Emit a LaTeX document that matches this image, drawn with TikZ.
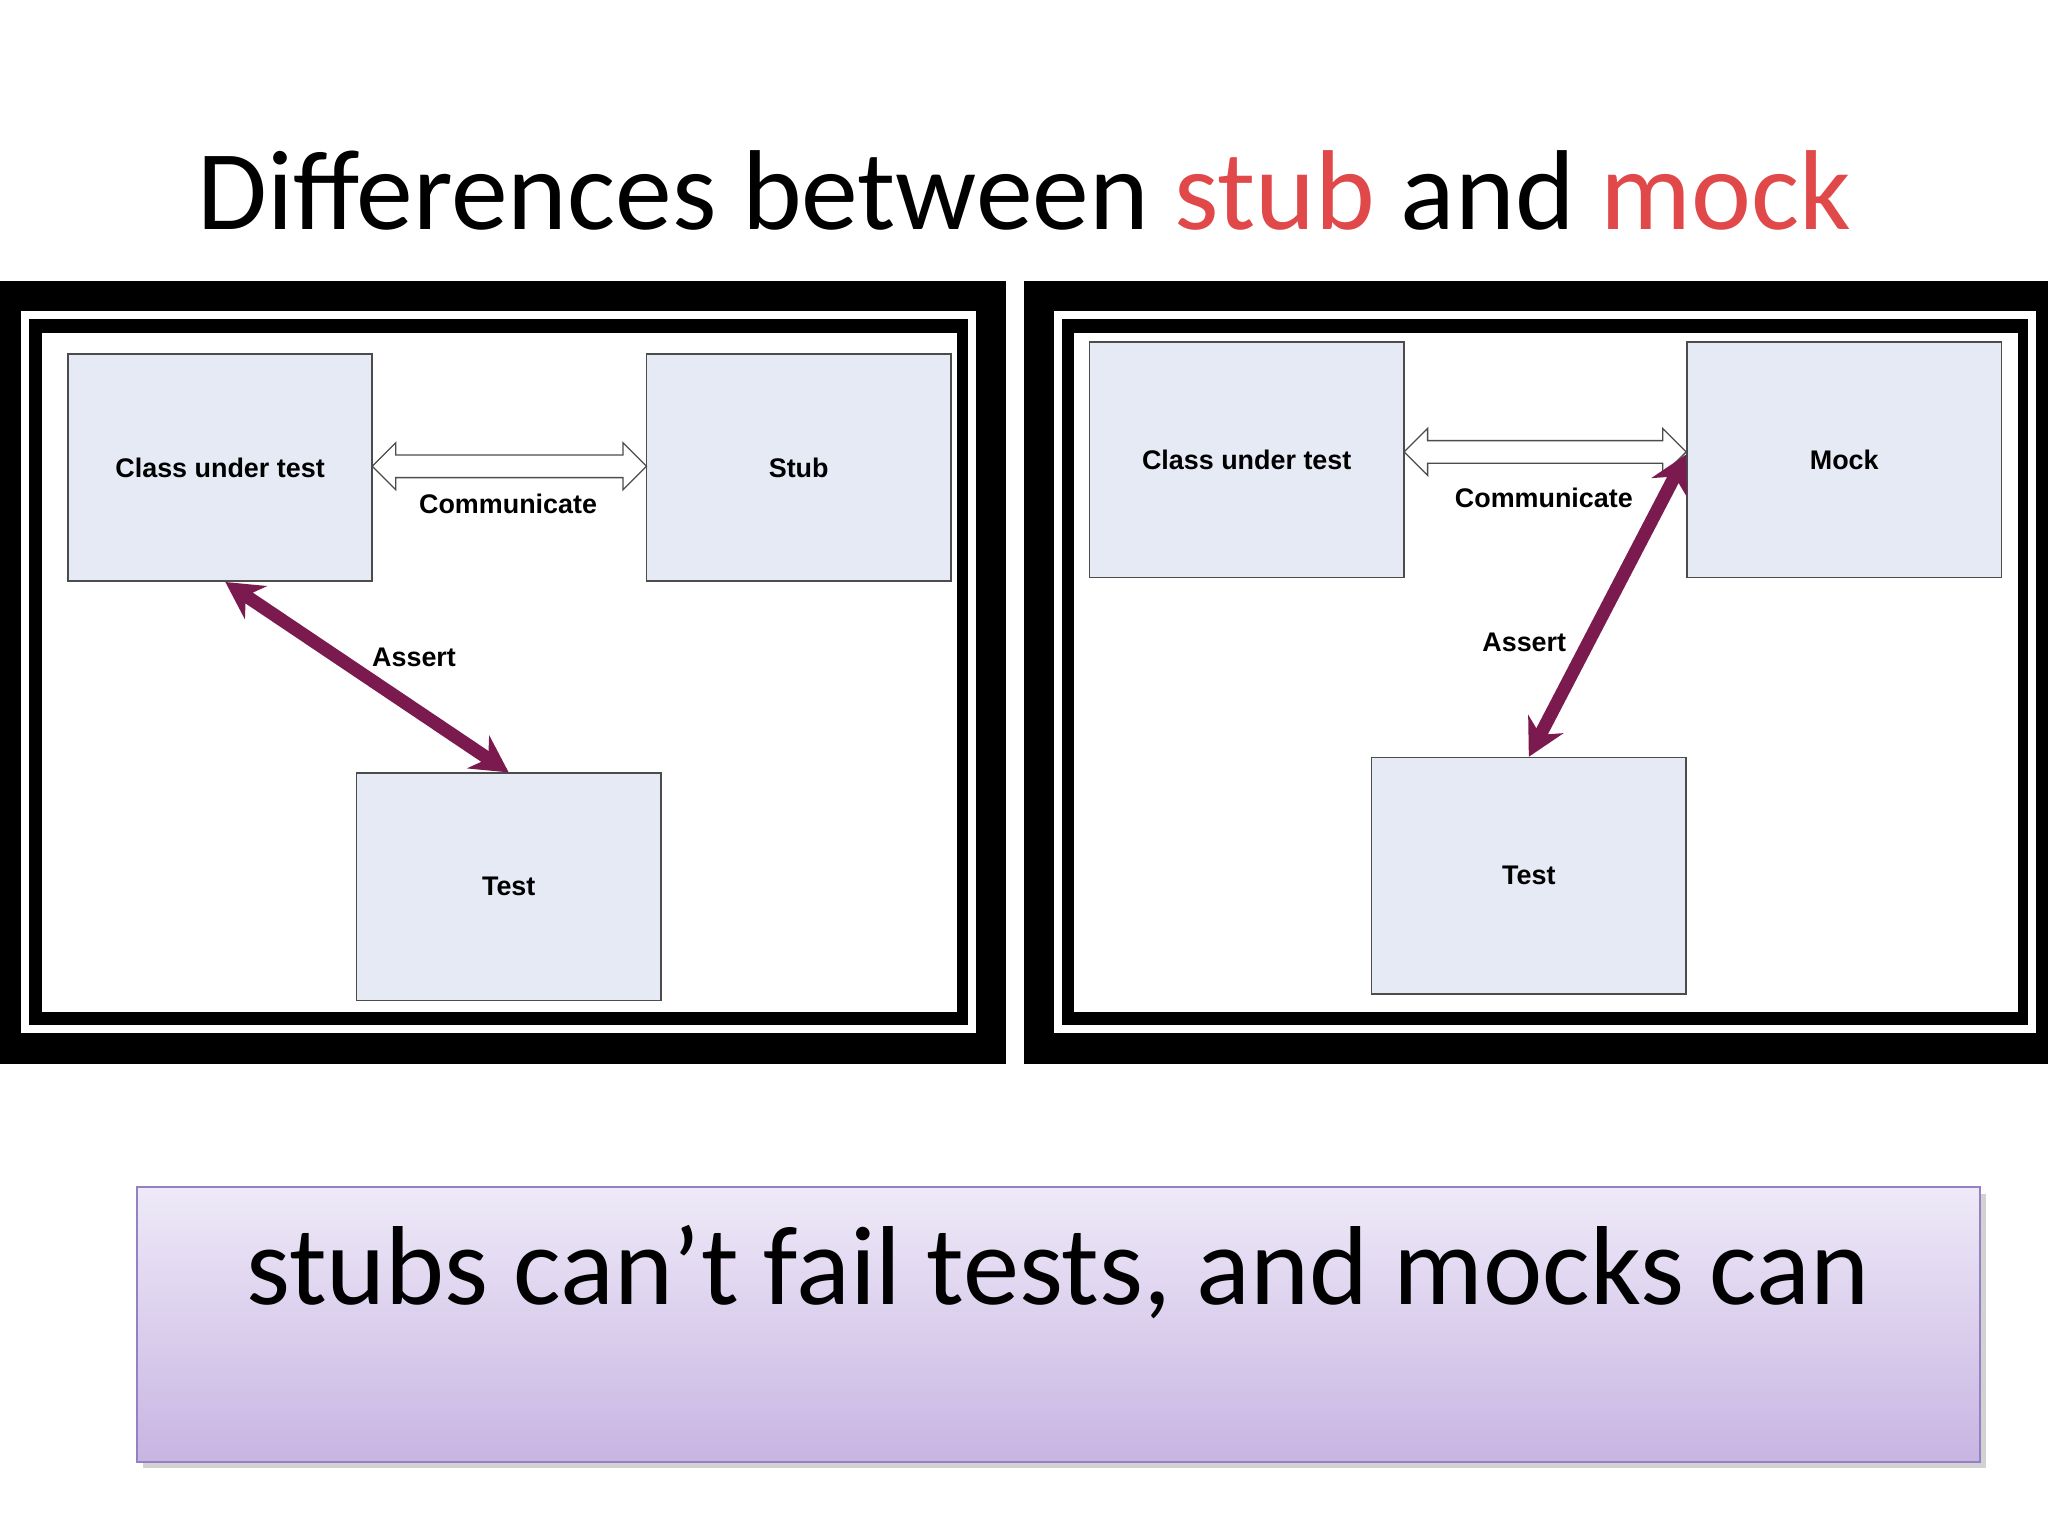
\documentclass[tikz,border=0pt]{standalone}
\usepackage{fontspec}
\setmainfont{Carlito}
\newfontfamily\arialb{Liberation Sans}[BoldFont={* Bold}]
\usetikzlibrary{shapes.arrows,arrows.meta,shadows}
\definecolor{boxfill}{HTML}{E6EAF5}
\definecolor{maroon}{HTML}{7B1A4F}
\definecolor{redt}{HTML}{E0484A}
\definecolor{gtop}{HTML}{EEEAF8}
\definecolor{gbot}{HTML}{C8B4E2}
\definecolor{gbord}{HTML}{9580C4}
\tikzset{
  box/.style={draw=black!70, fill=boxfill, line width=0.6pt, font=\arialb\bfseries\fontsize{10.3}{12}\selectfont},
  comm/.style={double arrow, draw=black!70, fill=white, line width=0.5pt, inner sep=3pt, double arrow head extend=3.5pt, double arrow head indent=0pt},
  lab/.style={font=\arialb\bfseries\fontsize{10.3}{12}\selectfont},
  assert/.style={draw=maroon, line width=5pt, {Stealth[length=14pt,width=15pt]}-{Stealth[length=14pt,width=15pt]}},
}
\begin{document}
\begin{tikzpicture}[x=0.5pt,y=-0.5pt]
\useasboundingbox (0,0) rectangle (1568,1176);
\fill[white] (0,0) rectangle (1568,1176);
% title
\node[font=\fontsize{43.5}{50}\selectfont, anchor=base] (title) at (784,176) {Differences between \textcolor{redt}{stub} and \textcolor{redt}{mock}};
% frames
\fill[black] (0,215) rectangle (770,815);
\draw[white, line width=3pt] (19,241) rectangle (744,788);
\fill[white] (32,255) rectangle (733,775);
\fill[black] (784,215) rectangle (1568,815);
\draw[white, line width=3pt] (810,241) rectangle (1556,788);
\fill[white] (822,255) rectangle (1545,775);
% left diagram
\node[box, minimum width=116.5pt, minimum height=87pt] (cl) at (168.5,358) {Class under test};
\node[box, minimum width=116.5pt, minimum height=87pt] (st) at (611.5,358) {Stub};
\node[box, minimum width=116.5pt, minimum height=87pt] (tl) at (389.5,679) {Test};
\node[comm, minimum height=105pt, minimum width=18pt] (cal) at (390,357) {};
\node[lab] (cml) at (389,386) {Communicate};
\draw[assert] ([xshift=2pt]cl.south) -- (tl.north);
\node[lab] (asl) at (317,503) {Assert};
% right diagram
\node[box, minimum width=120.5pt, minimum height=90pt] (cr) at (954.5,352) {Class under test};
\node[box, minimum width=120.5pt, minimum height=90pt] (mk) at (1412,352) {Mock};
\node[box, minimum width=120.5pt, minimum height=90.5pt] (tr) at (1170.5,670.5) {Test};
\node[comm, minimum height=108pt, minimum width=18pt] (car) at (1183,346) {};
\node[lab] (cmr) at (1182,381) {Communicate};
\draw[assert] ([yshift=2pt]mk.west) -- (tr.north);
\node[lab] (asr) at (1167,492) {Assert};
% bottom box
\shade[top color=gtop, bottom color=gbot, drop shadow={opacity=0.35}] (105,909) rectangle (1516,1119);
\draw[draw=gbord, line width=0.8pt] (105,909) rectangle (1516,1119);
\node[font=\fontsize{43}{48}\selectfont, anchor=base] (msg) at (810,999) {stubs can’t fail tests, and mocks can};
\end{tikzpicture}
\end{document}
